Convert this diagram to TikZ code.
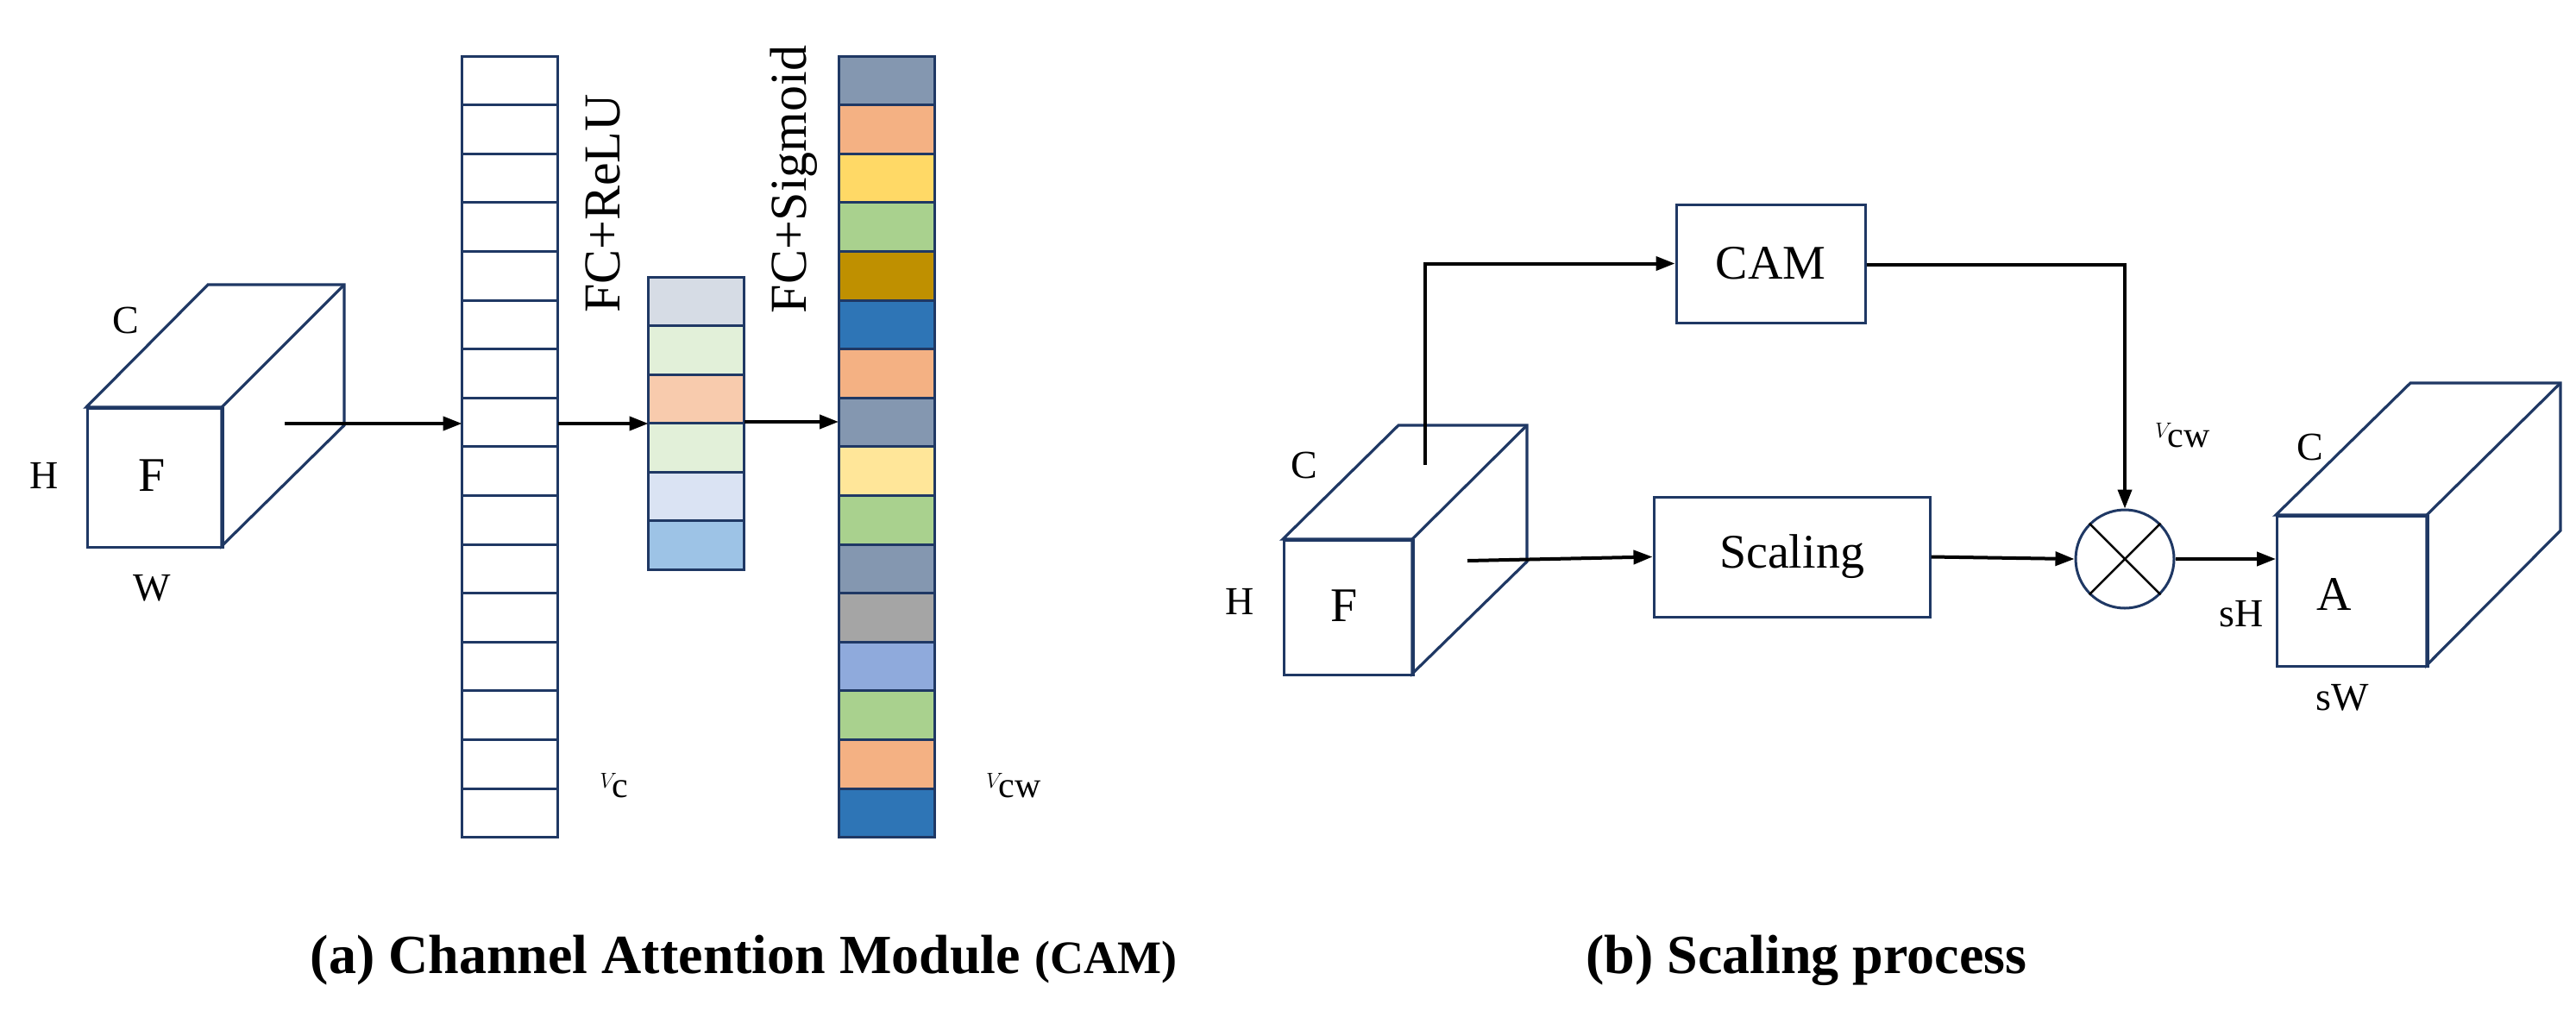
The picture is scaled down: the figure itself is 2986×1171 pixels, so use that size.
\documentclass[tikz,border=0pt]{standalone}
\usepackage{fontspec}
\setmainfont{Liberation Serif}
\usetikzlibrary{arrows.meta}
\definecolor{nav}{HTML}{1F3864}
\begin{document}
\begin{tikzpicture}[x=1pt,y=-1pt,
  edge/.style={line width=3.2pt,color=nav},
  arr/.style={line width=4pt,-{Triangle[length=22pt,width=16pt]}},
  lbl/.style={font=\fontsize{46}{50}\selectfont},
  cell/.style={draw=nav,line width=3pt,minimum width=111pt,minimum height=56.6pt,inner sep=0pt,outer sep=0pt},
  box/.style={draw=nav,line width=3pt,inner sep=0pt,font=\fontsize{56}{60}\selectfont}]
\useasboundingbox (0,0) rectangle (2986,1171);
% left cube
\draw[edge,fill=white] (100,472) -- (241,330) -- (399,330) -- (399,493) -- (257,633) -- (257,472) -- cycle;
\draw[edge] (257,472) -- (399,330);
\node[draw=nav,line width=3.2pt,minimum width=157pt,minimum height=161pt,inner sep=0pt,anchor=north west] (F1) at (100,472) {};
\node[lbl] at (176,551) {\fontsize{56}{60}\selectfont F};
\node[lbl] (c1) at (146,371) {C};
\node[lbl] (h1) at (51,551) {H};
\node[lbl] (w1) at (176,682) {W};
\coordinate (s1) at (330,491);
% Vc column
\foreach \i in {1,...,16}{\node[cell,fill=white] (vc\i) at (591,{65+28.3+(\i-1)*56.6}) {};}
% middle column
\foreach \c [count=\i] in {D6DCE5,E2F0D9,F8CBAD,E2F0D9,DAE3F3,9DC3E6}{
  \definecolor{cc}{HTML}{\c}
  \node[cell,fill=cc] (m\i) at (807,{321+28.3+(\i-1)*56.5}) {};}
% Vcw column
\foreach \c [count=\i] in {8497B0,F4B183,FFD966,A9D18E,BF9000,2E75B6,F4B183,8497B0,FFE699,A9D18E,8497B0,A5A5A5,8FAADC,A9D18E,F4B183,2E75B6}{
  \definecolor{cc}{HTML}{\c}
  \node[cell,fill=cc] (w\i) at (1027.5,{65+28.3+(\i-1)*56.6}) {};}
\draw[arr] (s1) -- (vc8.west |- s1);
\draw[arr] (vc8.east |- s1) -- (m3.west |- s1);
\draw[arr] (m3.east |- 0,489) -- (w8.west |- 0,489);
\node[rotate=90,font=\fontsize{60}{64}\selectfont] (relu) at (699,236) {FC+ReLU};
\node[rotate=90,font=\fontsize{60}{64}\selectfont] (sig) at (920,208) {FC+Sigmoid};
\node[font=\fontsize{60}{64}\selectfont] (vcl) at (712,911) {$V_{\mathrm{c}}$};
\node[font=\fontsize{60}{64}\selectfont] (vcwl) at (1175,911) {$V_{\mathrm{cw}}$};
\node[font=\fontsize{64}{68}\selectfont\bfseries] (capa) at (862,1113) {(a) Channel Attention Module \fontsize{54}{58}\selectfont(CAM)};
% right: F cube
\draw[edge,fill=white] (1487,625) -- (1621,493) -- (1770,493) -- (1770,651) -- (1637,781) -- (1637,625) -- cycle;
\draw[edge] (1637,625) -- (1770,493);
\node[draw=nav,line width=3.2pt,minimum width=150pt,minimum height=156pt,inner sep=0pt,anchor=north west] (F2) at (1487,625) {};
\node at (1558,702) {\fontsize{56}{60}\selectfont F};
\node[lbl] (c2) at (1512,539) {C};
\node[lbl] (h2) at (1437,697) {H};
\coordinate (s2) at (1652,539);
\coordinate (s3) at (1701,650);
\node[box,minimum width=219pt,minimum height=137pt] (cam) at (2052.5,305.5) {CAM};
\node[box,minimum width=320pt,minimum height=139pt] (sc) at (2077,645.5) {Scaling};
\node[draw=nav,line width=3pt,circle,minimum size=114pt,inner sep=0pt] (ot) at (2463,648) {};
\draw[line width=2.5pt] (ot.45) -- (ot.225) (ot.135) -- (ot.315);
% A cube
\draw[edge,fill=white] (2638,597) -- (2794,444) -- (2968,444) -- (2968,615) -- (2813,771) -- (2813,597) -- cycle;
\draw[edge] (2813,597) -- (2968,444);
\node[draw=nav,line width=3.2pt,minimum width=175pt,minimum height=174pt,inner sep=0pt,anchor=north west] (A) at (2638,597) {};
\node at (2706,689) {\fontsize{56}{60}\selectfont A};
\node[lbl] (c3) at (2678,518) {C};
\node[lbl] (sh) at (2598,712) {sH};
\node[lbl] (sw) at (2715,809) {sW};
\draw[arr] (s2) |- (cam.west);
\draw[arr] (cam.east |- 0,307) -| (ot.north);
\draw[arr] (s3) -- (sc.west);
\draw[arr] (sc.east) -- (ot.west);
\draw[arr] (ot.east) -- (A.west |- ot.east);
\node[font=\fontsize{60}{64}\selectfont] (vcw2) at (2530,505) {$V_{\mathrm{cw}}$};
\node[font=\fontsize{64}{68}\selectfont\bfseries] (capb) at (2094,1113) {(b) Scaling process};
\end{tikzpicture}
\end{document}
